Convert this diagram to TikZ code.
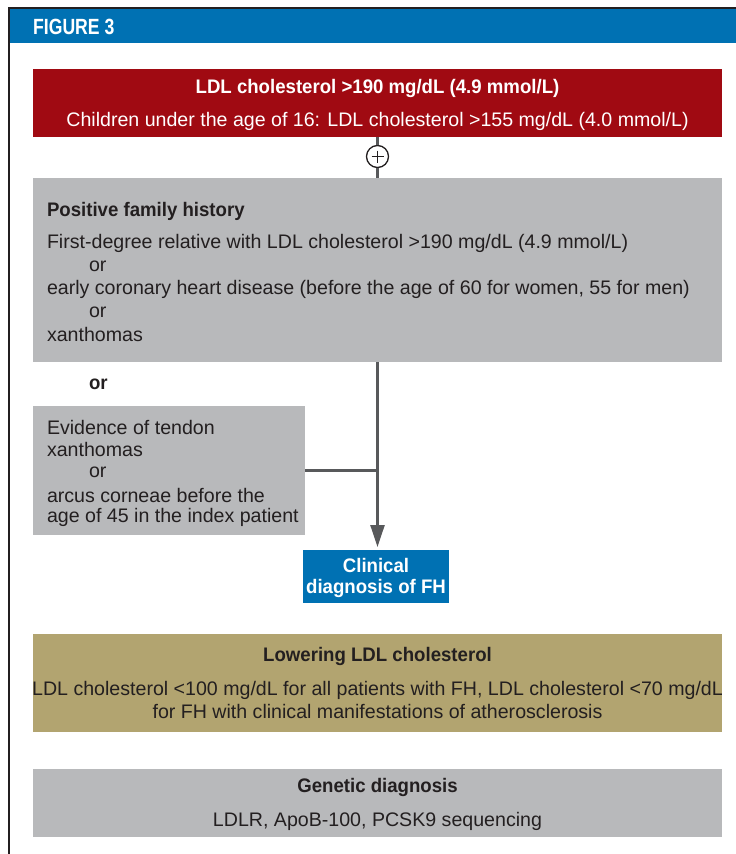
\documentclass[tikz,border=0pt]{standalone}
\usepackage{fontspec}
\setmainfont{Liberation Sans}[BoldFeatures={FakeStretch=0.95}]
\newfontfamily\hdrfont{Liberation Sans Bold}[FakeStretch=0.8]
\usetikzlibrary{arrows.meta,calc}
\definecolor{hdrblue}{HTML}{0071B3}
\definecolor{boxred}{HTML}{A00A12}
\definecolor{boxgray}{HTML}{B8B9BB}
\definecolor{boxolive}{HTML}{B2A470}
\definecolor{txtdark}{HTML}{231F20}
\definecolor{linegray}{HTML}{58595B}
\tikzset{
  box/.style={anchor=north west, inner sep=0pt, outer sep=0pt, draw=none},
  txt/.style={inner sep=0pt, outer sep=0pt, text=txtdark, font=\fontsize{19.6}{23}\selectfont},
  ltxt/.style={txt, anchor=west},
  btxt/.style={txt, font=\fontsize{19.6}{23}\selectfont\bfseries},
  wtxt/.style={btxt, text=white},
  conn/.style={draw=linegray, line width=2.4pt},
}
\begin{document}
\begin{tikzpicture}[x=1pt,y=-1pt]
\useasboundingbox (0,0) rectangle (736,854);
% frame and header
\node[box, fill=hdrblue, minimum width=726pt, minimum height=34pt] (hdr) at (10,9) {};
\draw[txtdark, line width=2pt] (9,854) -- (9,8) -- (736,8);
\node[inner sep=0pt, anchor=west, text=white, font=\fontsize{22}{24}\hdrfont] (fig) at (33,27) {FIGURE 3};
% red box
\node[box, fill=boxred, minimum width=689pt, minimum height=68pt] (red) at (33,69) {};
\node[wtxt] (r1) at (377.5,88) {LDL cholesterol >190 mg/dL (4.9 mmol/L)};
\node[txt, text=white] (r2) at (377.5,121) {Children under the age of 16: LDL cholesterol >155 mg/dL (4.0 mmol/L)};
% plus
\node[circle, draw=txtdark, line width=1.3pt, minimum size=22pt, inner sep=0pt] (plus) at (377.5,156.5) {};
\draw[txtdark, line width=1.3pt] ($(plus)+(-6,0)$) -- ($(plus)+(6,0)$);
\draw[txtdark, line width=1.3pt] ($(plus)+(0,-6)$) -- ($(plus)+(0,6)$);
% gray box 1
\node[box, fill=boxgray, minimum width=689pt, minimum height=184pt] (fh) at (33,178) {};
\draw[conn] (red.south) -- (plus.north);
\draw[conn] (plus.south) -- (fh.north);
\node[ltxt, font=\fontsize{19.6}{23}\selectfont\bfseries] (f1) at (47,211) {Positive family history};
\node[ltxt] (f2) at (47,243) {First-degree relative with LDL cholesterol >190 mg/dL (4.9 mmol/L)};
\node[ltxt] (f3) at (89,266) {or};
\node[ltxt] (f4) at (47,289) {early coronary heart disease (before the age of 60 for women, 55 for men)};
\node[ltxt] (f5) at (89,312) {or};
\node[ltxt] (f6) at (47,334) {xanthomas};
\node[ltxt, font=\fontsize{19.6}{23}\selectfont\bfseries] (or) at (89,384) {or};
% gray box 2
\node[box, fill=boxgray, minimum width=272pt, minimum height=129pt] (ev) at (33,406) {};
\node[ltxt] (e1) at (47,427) {Evidence of tendon};
\node[ltxt] (e2) at (47,449) {xanthomas};
\node[ltxt] (e3) at (89,472) {or};
\node[ltxt] (e4) at (47,495) {arcus corneae before the};
\node[ltxt] (e5) at (47,517) {age of 45 in the index patient};
% clinical diagnosis
\node[box, fill=hdrblue, minimum width=146pt, minimum height=53pt] (clin) at (303,550) {};
\node[wtxt] (c1) at (376,565) {Clinical};
\node[wtxt] (c2) at (376,588) {diagnosis of FH};
\coordinate (tip) at (377.5,547);
\draw[conn, -{Triangle[length=22pt,width=14pt]}] (fh.south) -- (tip);
\draw[conn] (ev.east) -- (ev.east -| fh.south);
% olive box
\node[box, fill=boxolive, minimum width=689pt, minimum height=98pt] (low) at (33,634) {};
\node[btxt] (l1) at (377.5,656) {Lowering LDL cholesterol};
\node[txt] (l2) at (377.5,690) {LDL cholesterol <100 mg/dL for all patients with FH, LDL cholesterol <70 mg/dL};
\node[txt] (l3) at (377.5,711) {for FH with clinical manifestations of atherosclerosis};
% gray box 3
\node[box, fill=boxgray, minimum width=689pt, minimum height=68pt] (gen) at (33,769) {};
\node[btxt] (g1) at (377.5,787) {Genetic diagnosis};
\node[txt] (g2) at (377.5,821) {LDLR, ApoB-100, PCSK9 sequencing};
\end{tikzpicture}
\end{document}
